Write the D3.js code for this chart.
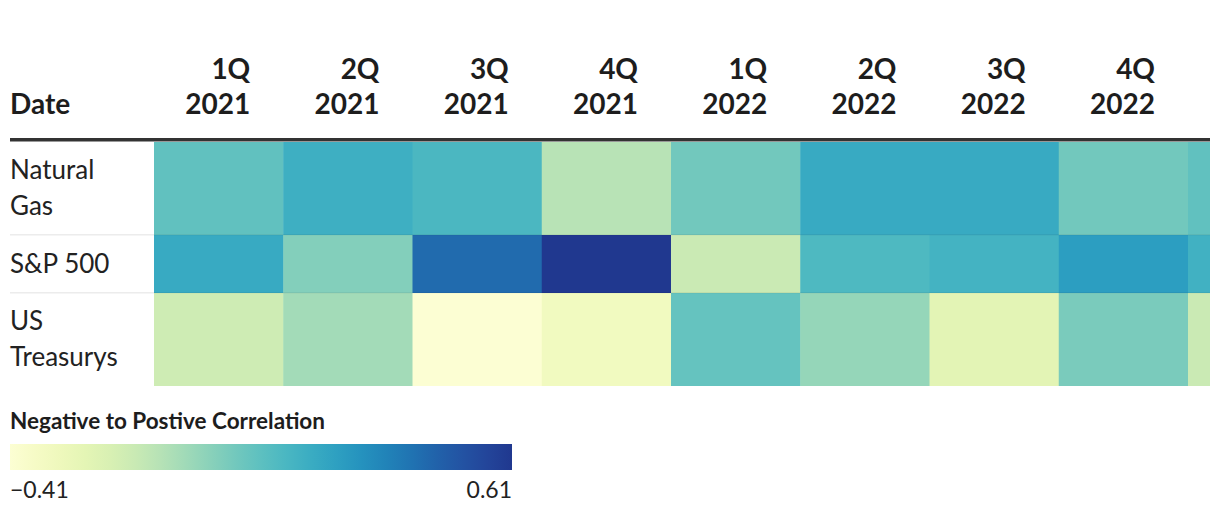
<!DOCTYPE html>
<html><head><meta charset="utf-8">
<script src="https://cdn.jsdelivr.net/npm/d3@7"></script>
<style>
html,body{margin:0;padding:0;background:#fff;}
svg{display:block;font-family:Lato,"Noto Sans",sans-serif;}
</style></head>
<body><svg id="c" width="1220" height="512"></svg>
<script>
const quarters = ["1Q","2Q","3Q","4Q","1Q","2Q","3Q","4Q","1Q"];
const years = ["2021","2021","2021","2021","2022","2022","2022","2022","2023"];
const rowLabels = [["Natural","Gas"],["S&P 500"],["US","Treasurys"]];
const naturalGas = [0.09, 0.19, 0.15, -0.11, 0.05, 0.21, 0.21, 0.05, 0.09];
const sp500 = [0.21, 0.01, 0.43, 0.61, -0.16, 0.14, 0.17, 0.26, 0.18];
const usTreasurys = [-0.17, -0.06, -0.41, -0.33, 0.08, -0.03, -0.25, 0.03, -0.16];
const series = [naturalGas, sp500, usTreasurys];
const legendTitle = "Negative to Postive Correlation";
const legendTicks = [-0.41, 0.61];

const svg = d3.select("#c");
const W = 1210;
const minV = d3.min(legendTicks), maxV = d3.max(legendTicks);
const color = d3.scaleSequential(t => d3.interpolateYlGnBu(0.02 + t * 0.85)).domain([minV, maxV]);

const cols = d3.range(quarters.length);
const x = d3.scaleBand().domain(cols).range([154, 154 + 129.25 * quarters.length]).paddingInner(0).paddingOuter(0);
const rowTops = [142, 235, 293];
const rowBottoms = [234, 292, 385];

const defs = svg.append("defs");
defs.append("clipPath").attr("id","clip").append("rect").attr("x",0).attr("y",0).attr("width",W).attr("height",512);

const g = svg.append("g").attr("clip-path","url(#clip)");

// header
const hfs = 28;
g.append("text").attr("x",10).attr("y",114).attr("font-size",hfs).attr("font-weight",700).attr("fill","#1d1d1d").text("Date");
const visibleCols = cols.filter(d => x(d) + x.bandwidth() - 33 <= W);
const hdr = g.selectAll("g.hdr").data(visibleCols).join("g").attr("class","hdr");
hdr.append("text").attr("x",d=>x(d)+x.bandwidth()-33).attr("y",79).attr("text-anchor","end")
  .attr("font-size",hfs).attr("font-weight",700).attr("fill","#1d1d1d").text(d=>quarters[d]);
hdr.append("text").attr("x",d=>x(d)+x.bandwidth()-33).attr("y",114).attr("text-anchor","end")
  .attr("font-size",hfs).attr("font-weight",700).attr("fill","#1d1d1d").text(d=>years[d]);
g.append("rect").attr("x",10).attr("y",138).attr("width",W-10).attr("height",3.5).attr("fill","#333");

// row separators
[234, 292].forEach(y => g.append("rect").attr("x",10).attr("y",y).attr("width",W-10).attr("height",1.5).attr("fill","#ececec"));

// cells
series.forEach((vals, r) => {
  g.selectAll(null).data(vals).join("rect")
    .attr("x",(d,i)=>x(i)).attr("y",rowTops[r]).attr("width",x.bandwidth()+0.5).attr("height",rowBottoms[r]-rowTops[r]+1)
    .attr("fill",d=>color(d));
});
[234, 292].forEach(y => g.append("rect").attr("x",154).attr("y",y).attr("width",W-154).attr("height",1.5).attr("fill","rgba(0,0,0,0.05)"));

// row labels
rowLabels.forEach((lines, r) => {
  const mid = (rowTops[r] + rowBottoms[r]) / 2;
  const lh = 36;
  const first = mid - (lines.length - 1) * lh / 2 + 9;
  lines.forEach((t, k) => {
    g.append("text").attr("x",10).attr("y",first + k*lh).attr("font-size",26).attr("fill","#222").text(t);
  });
});

// legend
svg.append("text").attr("x",10).attr("y",429).attr("font-size",22.5).attr("font-weight",700).attr("fill","#1d1d1d").text(legendTitle);
const lx = d3.scaleLinear().domain([minV, maxV]).range([10, 512]);
const grad = defs.append("linearGradient").attr("id","lg").attr("x1","0%").attr("x2","100%");
d3.range(0, 1.0001, 0.05).forEach(t => grad.append("stop").attr("offset", (t*100)+"%").attr("stop-color", color(minV + t*(maxV-minV))));
svg.append("rect").attr("x",lx(minV)).attr("y",444).attr("width",lx(maxV)-lx(minV)).attr("height",26).attr("fill","url(#lg)");
svg.selectAll("text.lt").data(legendTicks).join("text").attr("class","lt")
  .attr("x",d=>lx(d)).attr("y",498).attr("font-size",23).attr("fill","#222")
  .attr("text-anchor",(d,i)=>i===0?"start":"end")
  .text(d=>d3.format(".2f")(d).replace("-","\u2212"));
</script></body></html>
